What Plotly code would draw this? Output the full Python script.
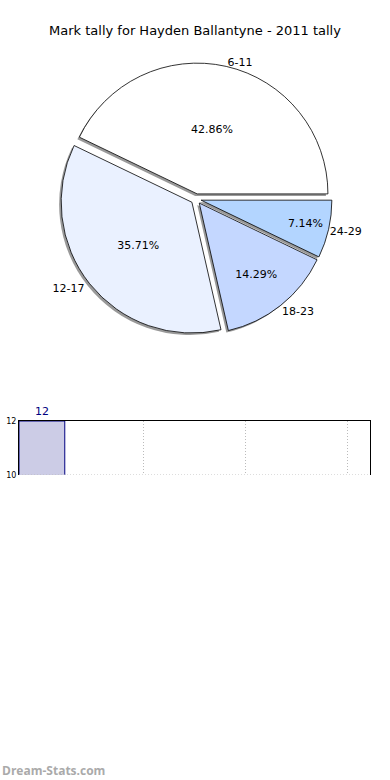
import plotly.graph_objects as go

# ---- data ----
pie_labels = ["6-11", "12-17", "18-23", "24-29"]
pie_values = [6, 5, 2, 1]
pie_colors = ["#FFFFFF", "#EAF1FF", "#C4D7FF", "#B3D5FF"]

bar_x = [0]
bar_values = [12]
bar_text = ["12"]

title = "Mark tally for Hayden Ballantyne - 2011 tally"

W, H = 390, 780
FONT = "DejaVu Sans"

# pie placement (pixels -> paper)
cx, cy, size = 196, 199, 272
def dom(cx, cy, size):
    return dict(x=[(cx - size / 2) / W, (cx + size / 2) / W],
                y=[1 - (cy + size / 2) / H, 1 - (cy - size / 2) / H])

pull = [0.04, 0.04, 0.04, 0.04]
# first slice starts at 3 o'clock and runs counterclockwise
rot = 90 - 360 * pie_values[0] / sum(pie_values)

fig = go.Figure()
# shadow pie carrying the outside labels
fig.add_trace(go.Pie(
    labels=pie_labels, values=pie_values, sort=False, direction="counterclockwise",
    rotation=rot, pull=pull, domain=dom(cx - 2, cy + 2, size),
    marker=dict(colors=["#999999"] * 4, line=dict(width=0)),
    textinfo="label", textposition="outside",
    textfont=dict(family=FONT, size=11, color="#000000"),
    hoverinfo="skip", showlegend=False,
))
# main pie with percentages
fig.add_trace(go.Pie(
    labels=pie_labels, values=pie_values, sort=False, direction="counterclockwise",
    rotation=rot, pull=pull, domain=dom(cx, cy, size),
    marker=dict(colors=pie_colors, line=dict(color="#000000", width=0.8)),
    texttemplate="%{percent:.2%}", textposition="inside",
    insidetextorientation="horizontal",
    textfont=dict(family=FONT, size=11, color="#000000"),
    showlegend=False,
))

# bar chart
fig.add_trace(go.Bar(
    x=bar_x, y=bar_values, width=0.45, text=bar_text, textposition="outside",
    cliponaxis=False,
    textfont=dict(family=FONT, size=11, color="#000080"),
    marker=dict(color="#CCCCE6", line=dict(color="#000080", width=1)),
    xaxis="x", yaxis="y", showlegend=False,
))

fig.update_layout(
    width=W, height=H,
    margin=dict(l=0, r=0, t=0, b=0, autoexpand=False),
    paper_bgcolor="white", plot_bgcolor="white",
    title=dict(text=title, x=0.5, xanchor="center", y=1 - 30 / H, yanchor="middle",
               font=dict(family=FONT, size=13, color="#000000"), automargin=False),
    xaxis=dict(domain=[19 / W, 370 / W], range=[-0.225, 3.225], dtick=1, tick0=0,
               showticklabels=False, side="top", showline=True, linecolor="#000000",
               linewidth=1, showgrid=True, gridcolor="#BBBBBB", griddash="1px,2px",
               gridwidth=1, zeroline=False, ticks="", fixedrange=True,
               automargin=False),
    yaxis=dict(domain=[1 - 475 / H, 1 - 421 / H], range=[10, 12], tickvals=[10, 12],
               showline=True, mirror=True, linecolor="#000000", linewidth=1,
               showgrid=False, zeroline=False,
               tickfont=dict(family=FONT, size=8, color="#000000"), ticks="",
               fixedrange=True, automargin=False),
    shapes=[dict(type="line", xref="x domain", yref="y", x0=0, x1=1, y0=10, y1=10,
                 line=dict(color="#BBBBBB", width=1, dash="1px,2px"), layer="above")],
    annotations=[dict(text="<b>Dream-Stats.com</b>", xref="paper", yref="paper",
                      x=0, y=1 - 770 / H, xanchor="left", yanchor="middle",
                      showarrow=False,
                      font=dict(family="Open Sans", size=12, color="#AAAAAA"))],
)

fig.write_html("out.html", config={"displayModeBar": False},
               post_script="document.body.style.margin='0';document.body.style.overflow='hidden';")
